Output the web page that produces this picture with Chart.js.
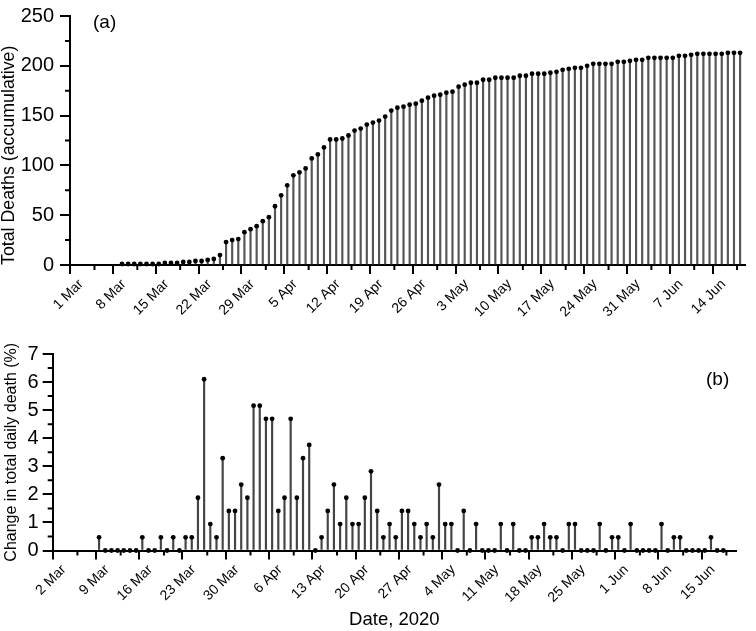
<!DOCTYPE html>
<html>
<head>
<meta charset="utf-8">
<script src="https://cdn.jsdelivr.net/npm/chart.js@4.4.0/dist/chart.umd.min.js"></script>
<style>
  html, body { margin: 0; padding: 0; background: #fff; }
  #wrap { position: relative; width: 756px; height: 631px; font-family: "Liberation Sans", Arial, sans-serif; }
  canvas { position: absolute; left: 0; }
  #top-chart { top: 0; }
  #bottom-chart { top: 320px; }
  .panel-tag { position: absolute; font-size: 19px; line-height: 1; color: #000; }
</style>
</head>
<body>
<div id="wrap">
  <canvas id="top-chart" width="756" height="320"></canvas>
  <canvas id="bottom-chart" width="756" height="311"></canvas>
  <div class="panel-tag" style="left:93px; top:12px;">(a)</div>
  <div class="panel-tag" style="left:706px; top:369px;">(b)</div>
</div>
<script>
// 数据: 9 Mar 2020 - 18 Jun 2020, one value per day
const firstDate = '2020-03-09';

// 累计死亡
const totalDeaths = [
    1, 1, 1, 1, 1, 1, 1, 2, 2, 2, 3, 3, 4, 4, 5, 6, 10, 23, 25, 26, 33, 36, 39,          // Mar 9-31
    44, 48, 59, 70, 80, 90, 93, 97, 107, 111, 118, 126, 126, 127, 130, 135, 137, 141,
    143, 145, 149, 155, 158, 159, 161, 162, 165, 168, 170, 171,                             // Apr
    173, 174, 179, 181, 183, 183, 186, 186, 188, 188, 188, 188, 190, 190, 192, 192,
    192, 193, 194, 196, 197, 198, 198, 200, 202, 202, 202, 202, 204, 204, 205,             // May
    206, 206, 208, 208, 208, 208, 208, 210, 210, 211, 212, 212, 212, 212, 212, 213, 213, 213 // Jun 1-18
];

// 每日变化 (%)
const dailyChange = [
    0.47, 0, 0, 0, 0, 0, 0, 0.47, 0, 0, 0.47, 0, 0.47, 0, 0.47, 0.47, 1.88, 6.10, 0.94, 0.47, 3.29, 1.41, 1.41,
    2.35, 1.88, 5.16, 5.16, 4.69, 4.69, 1.41, 1.88, 4.69, 1.88, 3.29, 3.76, 0, 0.47, 1.41, 2.35, 0.94, 1.88,
    0.94, 0.94, 1.88, 2.82, 1.41, 0.47, 0.94, 0.47, 1.41, 1.41, 0.94, 0.47,
    0.94, 0.47, 2.35, 0.94, 0.94, 0, 1.41, 0, 0.94, 0, 0, 0, 0.94, 0, 0.94, 0,
    0, 0.47, 0.47, 0.94, 0.47, 0.47, 0, 0.94, 0.94, 0, 0, 0, 0.94, 0, 0.47,
    0.47, 0, 0.94, 0, 0, 0, 0, 0.94, 0, 0.47, 0.47, 0, 0, 0, 0, 0.47, 0, 0
];

// 刻度标签
const topTickLabels = ['1 Mar', '8 Mar', '15 Mar', '22 Mar', '29 Mar', '5 Apr', '12 Apr', '19 Apr',
    '26 Apr', '3 May', '10 May', '17 May', '24 May', '31 May', '7 Jun', '14 Jun'];
const bottomTickLabels = ['2 Mar', '9 Mar', '16 Mar', '23 Mar', '30 Mar', '6 Apr', '13 Apr', '20 Apr',
    '27 Apr', '4 May', '11 May', '18 May', '25 May', '1 Jun', '8 Jun', '15 Jun'];

const FONT = '"Liberation Sans", Arial, sans-serif';
const DAY = 86400000;
const MAR1 = Date.UTC(2020, 2, 1);

// x = days since 1 Mar, points sit at mid-day
const offset0 = (Date.parse(firstDate) - MAR1) / DAY;
const toPoints = values => values.map((v, i) => ({ x: offset0 + i + 0.5, y: v }));

// 次刻度
const minorTicks = {
    id: 'minorTicks',
    afterDraw(chart, args, opts) {
        const { ctx, scales: { x, y } } = chart;
        ctx.save();
        ctx.strokeStyle = '#000';
        ctx.lineWidth = 2;
        ctx.beginPath();
        opts.x.forEach(v => {
            const px = x.getPixelForValue(v);
            ctx.moveTo(px, y.bottom);
            ctx.lineTo(px, y.bottom + opts.len);
        });
        opts.y.forEach(v => {
            const py = y.getPixelForValue(v);
            ctx.moveTo(x.left, py);
            ctx.lineTo(x.left - opts.len, py);
        });
        ctx.stroke();
        ctx.restore();
    }
};

// 创建火柴杆图
function stemChart(canvasId, cfg) {
    const points = toPoints(cfg.values);
    const majorX = cfg.tickLabels.map((_, i) => cfg.xMin + i * 7);
    const minorY = [];
    for (let v = cfg.yStep / 2; v < cfg.yMax; v += cfg.yStep) minorY.push(v);

    return new Chart(document.getElementById(canvasId), {
        type: 'bar',
        data: {
            datasets: [
                {
                    type: 'bar',
                    data: points,
                    backgroundColor: cfg.stemColor,
                    barThickness: 1.5,
                    grouped: false,
                    order: 2
                },
                {
                    type: 'scatter',
                    data: points,
                    pointRadius: 2.4,
                    pointBackgroundColor: '#000',
                    pointBorderWidth: 0,
                    clip: false,
                    order: 1
                }
            ]
        },
        plugins: [minorTicks],
        options: {
            responsive: false,
            animation: false,
            events: [],
            layout: { padding: cfg.padding },
            plugins: {
                legend: { display: false },
                tooltip: { enabled: false },
                minorTicks: { x: majorX.map(v => v + 4).filter(v => v < cfg.xMax), y: minorY, len: 5 }
            },
            scales: {
                x: {
                    type: 'linear',
                    offset: false,
                    min: cfg.xMin,
                    max: cfg.xMax,
                    afterBuildTicks: s => { s.ticks = majorX.map(v => ({ value: v })); },
                    afterFit: s => { s.height = cfg.xHeight; },
                    border: { color: '#000', width: 2 },
                    grid: { offset: false, drawOnChartArea: false, color: '#000', lineWidth: 2, tickLength: 9 },
                    ticks: {
                        autoSkip: false,
                        maxRotation: 45,
                        minRotation: 45,
                        padding: 2,
                        labelOffset: 11,
                        color: '#000',
                        font: { family: FONT, size: 14 },
                        callback: (v, i) => cfg.tickLabels[i]
                    },
                    title: cfg.xTitle ? {
                        display: true,
                        text: cfg.xTitle,
                        color: '#000',
                        font: { family: FONT, size: 18.5, lineHeight: 1 },
                        padding: { top: 0, bottom: 2 }
                    } : { display: false }
                },
                y: {
                    min: 0,
                    max: cfg.yMax,
                    afterFit: s => { s.width = cfg.yWidth; },
                    border: { color: '#000', width: 2 },
                    grid: { drawOnChartArea: false, color: '#000', lineWidth: 2, tickLength: 10 },
                    ticks: {
                        stepSize: cfg.yStep,
                        padding: cfg.yPad,
                        color: '#000',
                        font: { family: FONT, size: 20, lineHeight: 1 }
                    },
                    title: {
                        display: true,
                        text: cfg.yTitle,
                        align: cfg.yTitleAlign,
                        color: '#000',
                        font: { family: FONT, size: cfg.yTitleSize, lineHeight: 1 },
                        padding: { top: cfg.yTitlePad, bottom: 0 }
                    }
                }
            }
        }
    });
}

stemChart('top-chart', {
    values: totalDeaths,
    tickLabels: topTickLabels,
    xMin: 0,
    xMax: 110.3,
    yMax: 250,
    yStep: 50,
    yWidth: 70,
    yPad: 6,
    yTitle: 'Total Deaths (accumulative)',
    yTitleAlign: 'start',
    yTitleSize: 17.8,
    yTitlePad: 0,
    xHeight: 55,
    stemColor: '#555',
    padding: { left: 0, right: 11, top: 10, bottom: 0 }
});

stemChart('bottom-chart', {
    values: dailyChange,
    tickLabels: bottomTickLabels,
    xMin: 1,
    xMax: 111.55,
    yMax: 7,
    yStep: 1,
    yWidth: 52.7,
    yPad: 4,
    yTitle: 'Change in total daily death (%)',
    yTitleAlign: 'center',
    yTitleSize: 16,
    yTitlePad: 4,
    xTitle: 'Date, 2020',
    xHeight: 80.5,
    stemColor: '#444',
    padding: { left: 0, right: 20, top: 34, bottom: 0 }
});
</script>
</body>
</html>
